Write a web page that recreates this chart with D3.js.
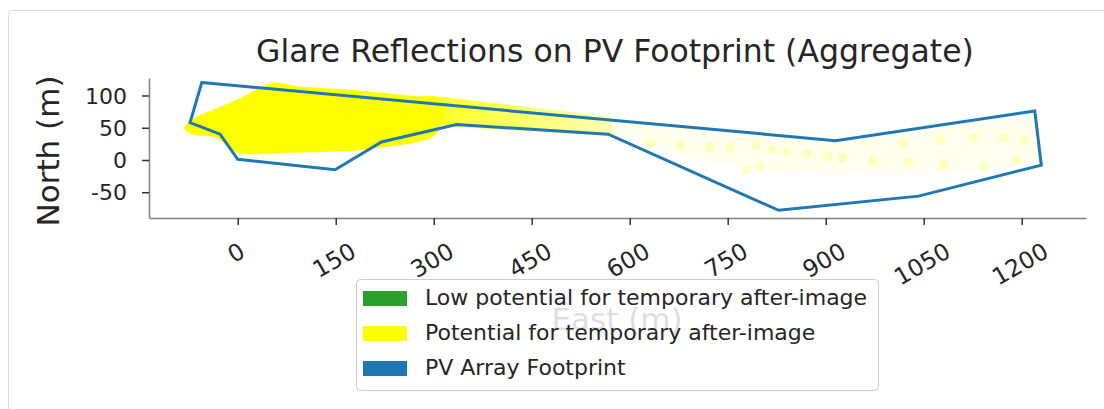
<!DOCTYPE html>
<html>
<head>
<meta charset="utf-8">
<script src="https://cdn.jsdelivr.net/npm/d3@7"></script>
<style>
  html, body { margin: 0; padding: 0; background: #fff; }
  svg { display: block; font-family: "DejaVu Sans", sans-serif; }
</style>
</head>
<body>
<svg id="chart" width="1104" height="409"></svg>
<script>
// ---------------- data ----------------
const chartTitle = "Glare Reflections on PV Footprint (Aggregate)";
const xLabel = "East (m)";
const yLabel = "North (m)";
const xTicks = [0, 150, 300, 450, 600, 750, 900, 1050, 1200];
const yTicks = [-50, 0, 50, 100];

// PV array footprint outline (East, North) in metres
const footprintEast  = [-55, 915, 1220, 1230, 1042, 828, 567, 335, 220, 149, 0, -27, -73];
const footprintNorth = [120, 30, 76, -8, -56, -78, 40, 55, 28, -15, 1, 40, 58];

// dense glare area (potential for temporary after-image)
const glareEast  = [-81, -63, -32, 4, 24, 42, 57, 70, 95, 172, 274, 310, 317, 310, 299, 192, 152, 70, 4, -12, -32, -68, -81];
const glareNorth = [52, 67, 80, 96, 107, 116, 120, 118, 114, 109, 99, 96, 74, 54, 36, 16, 13, 11, 10, 18, 34, 39, 47];

// thinner glare band along the array
const bandEast  = [310, 573, 573, 334, 310];
const bandNorth = [98, 67, 37, 51, 54];

// faint glare area toward the east end
const faintEast  = [573, 914, 1220, 1223, 1136, 1014, 830, 708, 573];
const faintNorth = [67, 34, 65, 0, -16, -19, -19, 0, 37];

// scattered faint glare spots
const spotEast  = [632, 678, 723, 754, 794, 819, 840, 871, 902, 779, 799, 925, 973, 1027, 1080, 1126, 1172, 1203, 1075, 1018, 1141, 1192];
const spotNorth = [26, 23, 20, 19, 23, 16, 13, 10, 5, -16, -10, 3, 0, -4, -8, 34, 34, 31, 31, 26, -10, 0];

const legendLabels = ["Low potential for temporary after-image", "Potential for temporary after-image", "PV Array Footprint"];
const legendColors = ["#2ca02c", "#ffff00", "#1f77b4"];

// ---------------- drawing ----------------
const svg = d3.select("#chart");
const plot = { left: 149, right: 1086, top: 78, bottom: 218 };

const x = d3.scaleLinear().domain([-135.8, 1298.4]).range([plot.left, plot.right]);
const y = d3.scaleLinear().domain([-89.9, 127.1]).range([plot.bottom, plot.top]);

// outer frame
svg.append("rect")
  .attr("x", 8.5).attr("y", 10.5).attr("width", 1110).attr("height", 420)
  .attr("rx", 4).attr("fill", "none").attr("stroke", "#dcdcdc").attr("stroke-width", 1);

// title
svg.append("text")
  .attr("x", 615).attr("y", 62)
  .attr("text-anchor", "middle")
  .attr("font-size", 31.5).attr("fill", "#262626")
  .text(chartTitle);

const toPts = (ex, no) => ex.map((e, i) => [x(e), y(no[i])]);
const line = d3.line().curve(d3.curveLinearClosed);

const defs = svg.append("defs");
const grad = defs.append("linearGradient").attr("id", "bandGrad")
  .attr("gradientUnits", "userSpaceOnUse")
  .attr("x1", x(310)).attr("x2", x(573)).attr("y1", 0).attr("y2", 0);
grad.append("stop").attr("offset", 0).attr("stop-color", "#ffff00").attr("stop-opacity", 0.85);
grad.append("stop").attr("offset", 1).attr("stop-color", "#ffff00").attr("stop-opacity", 0.3);

// faint region
svg.append("path").attr("d", line(toPts(faintEast, faintNorth)))
  .attr("fill", "#ffff00").attr("fill-opacity", 0.07).attr("stroke", "none");

// spots
svg.append("g").selectAll("circle")
  .data(spotEast.map((e, i) => [e, spotNorth[i]]))
  .join("circle")
  .attr("cx", d => x(d[0])).attr("cy", d => y(d[1])).attr("r", 5)
  .attr("fill", "#ffff00").attr("fill-opacity", 0.2);

// band
svg.append("path").attr("d", line(toPts(bandEast, bandNorth)))
  .attr("fill", "url(#bandGrad)").attr("stroke", "none");

// dense glare
svg.append("path").attr("d", d3.line().curve(d3.curveCatmullRomClosed.alpha(0.5))(toPts(glareEast, glareNorth)))
  .attr("fill", "#ffff00").attr("stroke", "none");

// footprint
svg.append("path").attr("d", line(toPts(footprintEast, footprintNorth)))
  .attr("fill", "none").attr("stroke", "#1f77b4").attr("stroke-width", 3)
  .attr("stroke-linejoin", "miter");

// axes
const yAxis = svg.append("g").attr("transform", `translate(${plot.left},0)`)
  .call(d3.axisLeft(y).tickValues(yTicks).tickFormat(d => String(d)).tickSize(7).tickSizeOuter(0).tickPadding(15));
const xAxis = svg.append("g").attr("transform", `translate(0,${plot.bottom})`)
  .call(d3.axisBottom(x).tickValues(xTicks).tickFormat(d => String(d)).tickSize(7).tickSizeOuter(0));

[yAxis, xAxis].forEach(g => {
  g.select(".domain").attr("stroke", "#808080").attr("stroke-width", 1.5);
  g.selectAll(".tick line").attr("stroke", "#333").attr("stroke-width", 1.5);
  g.selectAll(".tick text").attr("fill", "#262626").attr("font-size", 22)
    .attr("font-family", "DejaVu Sans, sans-serif");
});
yAxis.selectAll(".tick text").attr("dy", "0.35em");

const s30 = Math.sin(Math.PI / 6), c30 = Math.cos(Math.PI / 6);
xAxis.selectAll(".tick text").each(function () {
  const t = d3.select(this);
  t.attr("y", 0).attr("dy", "0.35em").attr("text-anchor", "middle").attr("font-size", 23.5);
  const b = this.getBBox();
  const cx = b.x + b.width / 2, cy = b.y + b.height / 2;
  const H = b.width * s30 + b.height * c30;
  t.attr("transform", `translate(-2,${19 + H / 2}) rotate(-30) translate(${-cx},${-cy})`);
});

// axis labels
svg.append("text")
  .attr("transform", "translate(59,151) rotate(-90)")
  .attr("text-anchor", "middle").attr("font-size", 31).attr("fill", "#262626")
  .text(yLabel);
svg.append("text")
  .attr("x", 617).attr("y", 330)
  .attr("text-anchor", "middle").attr("font-size", 31).attr("fill", "#262626")
  .text(xLabel);

// legend
const lg = svg.append("g").attr("transform", "translate(356,279)");
lg.append("rect").attr("x", 0.5).attr("y", 0.5).attr("width", 522).attr("height", 111)
  .attr("rx", 4).attr("fill", "#fff").attr("fill-opacity", 0.85).attr("stroke", "#cccccc");
legendLabels.forEach((lab, i) => {
  const row = lg.append("g").attr("transform", `translate(0,${12 + i * 35})`);
  row.append("rect").attr("x", 7).attr("y", 0).attr("width", 44).attr("height", 15)
    .attr("fill", legendColors[i]);
  row.append("text").attr("x", 69).attr("y", 14).attr("font-size", 22).attr("fill", "#262626").text(lab);
});
</script>
</body>
</html>
